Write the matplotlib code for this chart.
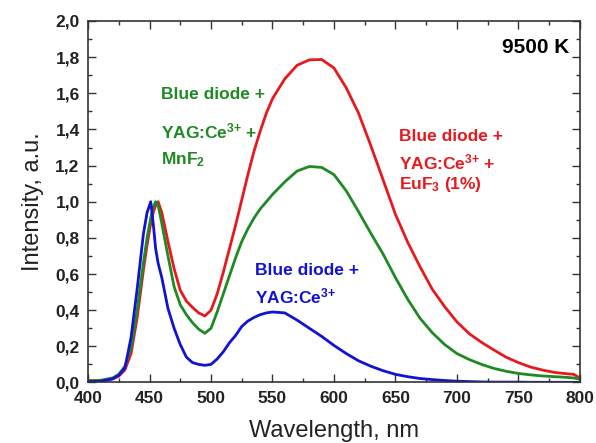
import matplotlib
matplotlib.use('Agg')
import matplotlib.pyplot as plt
from matplotlib.ticker import MultipleLocator

plt.rcParams['font.family'] = ['Liberation Sans', 'DejaVu Sans']
plt.rcParams['mathtext.fontset'] = 'custom'
plt.rcParams['mathtext.rm'] = 'Liberation Sans:bold'
plt.rcParams['mathtext.bf'] = 'Liberation Sans:bold'
plt.rcParams['mathtext.default'] = 'bf'

# Wavelength grid, nm
wavelength = [400, 410, 420, 425, 430, 435, 440, 445, 448, 451, 453, 455, 457, 460,
              465, 470, 475, 480, 485, 490, 495, 500, 505, 510, 515, 520, 525, 530,
              535, 540, 545, 550, 560, 570, 580, 590, 600, 610, 620, 630, 640, 650,
              660, 670, 680, 690, 700, 710, 720, 730, 740, 750, 760, 770, 780, 790,
              795, 800]

# Blue diode + YAG:Ce3+
blue_yag = [0.005, 0.006, 0.02, 0.04, 0.08, 0.25, 0.52, 0.82, 0.94, 1.00, 0.88, 0.74,
            0.66, 0.58, 0.41, 0.30, 0.21, 0.14, 0.11, 0.10, 0.095, 0.10, 0.13, 0.17,
            0.22, 0.26, 0.31, 0.34, 0.36, 0.375, 0.385, 0.39, 0.385, 0.345, 0.30,
            0.255, 0.205, 0.16, 0.12, 0.09, 0.065, 0.045, 0.032, 0.022, 0.016, 0.011,
            0.007, 0.005, 0.003, 0.002, 0.002, 0.002, 0.001, 0.001, 0.001, 0.001,
            0.001, 0.001]

# Blue diode + YAG:Ce3+ + MnF2
green_mnf2 = [0.01, 0.012, 0.025, 0.045, 0.09, 0.19, 0.40, 0.66, 0.80, 0.91, 0.97, 1.00,
              0.98, 0.88, 0.70, 0.53, 0.43, 0.375, 0.33, 0.295, 0.272, 0.30, 0.39, 0.49,
              0.59, 0.69, 0.78, 0.85, 0.91, 0.96, 1.00, 1.04, 1.11, 1.17, 1.195, 1.19,
              1.15, 1.06, 0.945, 0.825, 0.71, 0.58, 0.46, 0.355, 0.275, 0.21, 0.16,
              0.127, 0.10, 0.078, 0.062, 0.05, 0.042, 0.036, 0.032, 0.028, 0.025, 0.018]

# Blue diode + YAG:Ce3+ + EuF3 (1%)
red_euf3 = [0.01, 0.01, 0.02, 0.035, 0.07, 0.16, 0.36, 0.62, 0.76, 0.88, 0.94, 0.98,
            1.00, 0.94, 0.78, 0.63, 0.51, 0.45, 0.415, 0.385, 0.368, 0.40, 0.49, 0.61,
            0.74, 0.87, 1.01, 1.15, 1.28, 1.39, 1.49, 1.57, 1.68, 1.755, 1.785, 1.787,
            1.74, 1.63, 1.49, 1.31, 1.12, 0.93, 0.775, 0.64, 0.515, 0.42, 0.335, 0.27,
            0.222, 0.18, 0.14, 0.11, 0.085, 0.068, 0.055, 0.048, 0.045, 0.025]

x_ticks = [400, 450, 500, 550, 600, 650, 700, 750, 800]
y_ticks = [0.0, 0.2, 0.4, 0.6, 0.8, 1.0, 1.2, 1.4, 1.6, 1.8, 2.0]
y_tick_labels = ['0,0', '0,2', '0,4', '0,6', '0,8', '1,0', '1,2', '1,4', '1,6', '1,8', '2,0']

c_red = '#e8191e'
c_green = '#1f8a24'
c_blue = '#1212d2'

fig = plt.figure(figsize=(5.96, 4.43), dpi=100)
ax = fig.add_axes([0.1477, 0.1366, 0.8253, 0.816])

ax.plot(wavelength, red_euf3, color=c_red, lw=2)
ax.plot(wavelength, green_mnf2, color=c_green, lw=2)
ax.plot(wavelength, blue_yag, color=c_blue, lw=2)

ax.set_xlim(400, 800)
ax.set_ylim(0, 2.0)
ax.set_xticks(x_ticks)
ax.set_xticklabels([str(v) for v in x_ticks])
ax.set_yticks(y_ticks)
ax.set_yticklabels(y_tick_labels)
ax.xaxis.set_minor_locator(MultipleLocator(25))
ax.yaxis.set_minor_locator(MultipleLocator(0.1))

ax.tick_params(which='both', direction='in', top=True, right=True, color='#333333', width=1.0)
ax.tick_params(which='major', length=6, pad=6, labelsize=12.5)
ax.tick_params(which='minor', length=3)
for lbl in ax.get_xticklabels() + ax.get_yticklabels():
    lbl.set_fontweight('bold')
    lbl.set_color('#222222')
for sp in ax.spines.values():
    sp.set_linewidth(1.2)
    sp.set_color('#333333')

ax.set_xlabel('Wavelength, nm', fontsize=17, color='#222222', labelpad=10)
ax.set_ylabel('Intensity, a.u.', fontsize=17, color='#222222', labelpad=8)

# annotations
ax.text(791, 1.853, '9500 K', fontsize=15, fontweight='bold', ha='right', va='center')

ax.text(459, 1.593, 'Blue diode +', color=c_green, fontsize=12.5, fontweight='bold', va='center')
ax.text(459, 1.388, 'YAG:Ce$^{3{+}}$ +', color=c_green, fontsize=12.5, fontweight='bold', va='center')
ax.text(459, 1.233, 'MnF$_{2}$', color=c_green, fontsize=12.5, fontweight='bold', va='center')

ax.text(653, 1.36, 'Blue diode +', color=c_red, fontsize=12.5, fontweight='bold', va='center')
ax.text(653, 1.22, 'YAG:Ce$^{3{+}}$ +', color=c_red, fontsize=12.5, fontweight='bold', va='center')
ax.text(653, 1.094, 'EuF$_{3}$ (1%)', color=c_red, fontsize=12.5, fontweight='bold', va='center')

ax.text(536, 0.618, 'Blue diode +', color=c_blue, fontsize=12.5, fontweight='bold', va='center')
ax.text(536, 0.475, 'YAG:Ce$^{3{+}}$', color=c_blue, fontsize=12.5, fontweight='bold', va='center')

fig.savefig('out.png', dpi=100)
